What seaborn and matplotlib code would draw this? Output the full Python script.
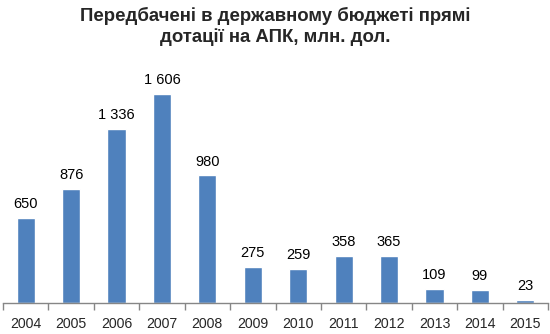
import matplotlib
matplotlib.use("Agg")
import matplotlib.pyplot as plt
import seaborn as sns
import pandas as pd
import numpy as np

years = ["2004", "2005", "2006", "2007", "2008", "2009", "2010", "2011", "2012", "2013", "2014", "2015"]
values = [650, 876, 1336, 1606, 980, 275, 259, 358, 365, 109, 99, 23]
title = "Передбачені в державному бюджеті прямі\nдотації на АПК, млн. дол."

sns.set_theme(style="white")
plt.rcParams['font.family'] = ['Liberation Sans', 'DejaVu Sans']

df = pd.DataFrame({"year": years, "value": values})

fig = plt.figure(figsize=(5.5, 3.34), dpi=100)
ax = fig.add_axes([3/550, 1 - 303/334, 545/550, 240/334])
sns.barplot(data=df, x="year", y="value", color="#4F81BD", saturation=1, width=0.4, ax=ax)

ax.set_xlim(-0.5, 11.5)
scale = 209 / 1606  # px per unit
ax.set_ylim(0, 240 / scale)

for i, v in enumerate(values):
    s = f"{v:,}".replace(",", " ")
    ax.annotate(s, (i, v), xytext=(0, 5), textcoords="offset points",
                ha="center", va="bottom", fontsize=10.5, color="black")

ax.set_xlabel("")
ax.set_ylabel("")
ax.set_yticks([])
for sp in ["top", "right", "left"]:
    ax.spines[sp].set_visible(False)
ax.spines["bottom"].set_color("#868686")
ax.spines["bottom"].set_linewidth(1)

ax.set_xticks(np.arange(-0.5, 12, 1), minor=False)
ax.set_xticklabels([])
ax.tick_params(axis="x", which="major", length=5, color="#868686", width=1, direction="out", bottom=True)
ax.set_xticks(np.arange(12), minor=True)
ax.set_xticklabels(years, minor=True, fontsize=10.2)
ax.tick_params(axis="x", which="minor", length=0, pad=10)

fig.suptitle(title, fontsize=13.4, fontweight="bold", y=0.98, linespacing=1.28)

fig.savefig("out.png", dpi=100)
